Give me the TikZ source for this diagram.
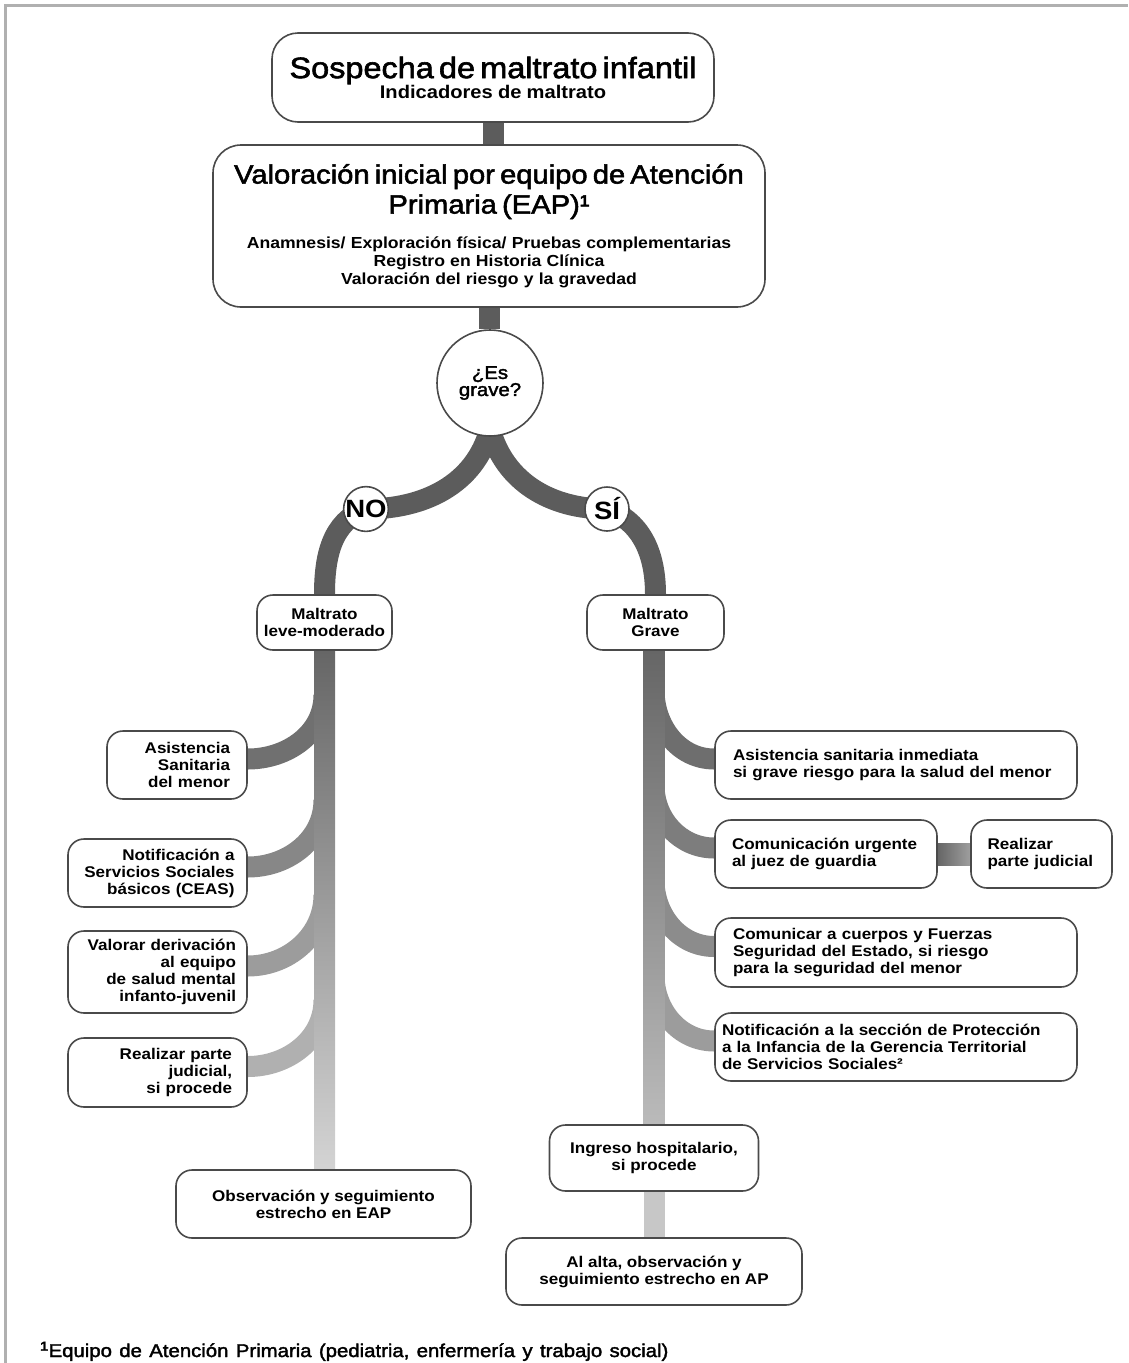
\documentclass[tikz,border=0pt]{standalone}
\usepackage{fontspec}
\setmainfont{Liberation Sans}[FakeStretch=1.1]
\newfontfamily\fuentemedia{Liberation Sans}[FakeStretch=1.1, FakeBold=2, WordSpace=1.3]
\usetikzlibrary{positioning,backgrounds,shapes}
\hyphenpenalty=10000
\exhyphenpenalty=10000

\definecolor{grisborde}{HTML}{4A4A4A}
\definecolor{gristallo}{HTML}{5C5C5C}
\definecolor{grismarco}{HTML}{B0B0B0}

\newcommand{\letrapeq}{\bfseries\fontsize{15.5}{17}\selectfont}
\newcommand{\ramaizq}[3]{\draw [rama, draw=#3] (#1) to[out=-90, in=0] ([yshift=6pt]#2.east);}
\newcommand{\ramader}[3]{\draw [rama, draw=#3] (#1) to[out=-90, in=180] ([yshift=6pt]#2.west);}

\tikzset{
  caja/.style={draw=grisborde, line width=1.6pt, rounded corners=16pt, fill=white, inner sep=0pt, font=\letrapeq},
  cajaizq/.style={caja, align=right},
  cajader/.style={caja, align=left},
  cajacen/.style={caja, align=center},
  decision/.style={circle, draw=grisborde, line width=1.6pt, fill=white, inner sep=0pt},
  rama/.style={line width=21pt},
}

\begin{document}
\begin{tikzpicture}[x=1pt, y=1pt]

\useasboundingbox (0,0) rectangle (1128,-1363);
\draw [grismarco, line width=3pt] (5,-1363) -- (5,-5) -- (1128,-5);

% parte superior
\node [caja, rounded corners=26pt, minimum width=442pt, minimum height=89pt, text width=436pt, align=center] (sosp) at (493,-77.5) {{\fuentemedia\mdseries\fontsize{29.5}{30}\selectfont Sospecha de maltrato infantil\par}{\bfseries\fontsize{18.3}{20}\selectfont Indicadores de maltrato\par}};
\node [caja, rounded corners=28pt, minimum width=552pt, minimum height=162pt, text width=540pt, align=center] (val) at (489,-226) {{\fuentemedia\mdseries\fontsize{26.5}{30}\selectfont Valoración inicial por equipo de Atención\\Primaria (EAP)¹\par}\vskip 17pt{\bfseries\fontsize{16}{18}\selectfont Anamnesis/ Exploración física/ Pruebas complementarias\\Registro en Historia Clínica\\Valoración del riesgo y la gravedad\par}};
\node [decision, minimum size=106pt, align=center, font=\fuentemedia\fontsize{18.5}{16}\selectfont] (es) at (490,-383) {¿Es\\grave?};
\node [decision, minimum size=44pt, font=\bfseries\fontsize{25}{25}\selectfont] (no) at (366,-509) {NO};
\node [decision, minimum size=44pt, font=\bfseries\fontsize{25}{25}\selectfont] (si) at (607,-509) {SÍ};

\node [cajacen, minimum width=135pt, minimum height=55pt] (leve) at (324.5,-622.5) {Maltrato\\leve-moderado};
\node [cajacen, minimum width=137pt, minimum height=55pt] (grave) at (655.5,-622.5) {Maltrato\\Grave};

% rama NO
\node [cajaizq, minimum width=140pt, minimum height=68pt, text width=106pt] (asisL) at (177,-765) {Asistencia\\Sanitaria\\del menor};
\node [cajaizq, minimum width=179pt, minimum height=68pt, text width=154pt] (ceas) at (157.5,-873) {Notificación a\\Servicios Sociales\\básicos (CEAS)};
\node [cajaizq, minimum width=179pt, minimum height=82pt, text width=157pt] (salud) at (157.5,-972) {Valorar derivación\\al equipo\\de salud mental\\infanto-juvenil};
\node [cajaizq, minimum width=179pt, minimum height=69pt, text width=149pt] (parteL) at (157.5,-1072.5) {Realizar parte\\judicial,\\si procede};
\node [cajacen, minimum width=295pt, minimum height=68pt] (obs) at (323.5,-1204) {Observación y seguimiento\\estrecho en EAP};

% rama SI
\node [cajader, minimum width=362pt, minimum height=68pt, text width=326pt] (asisR) at (896,-765) {Asistencia sanitaria inmediata\\si grave riesgo para la salud del menor};
\node [cajader, minimum width=222pt, minimum height=68pt, text width=188pt] (juez) at (826,-854) {Comunicación urgente\\al juez de guardia};
\node [cajader, minimum width=141pt, minimum height=68pt, text width=108pt] (parteR) at (1041.5,-854) {Realizar\\parte judicial};
\node [cajader, minimum width=362pt, minimum height=69pt, text width=326pt] (fuerzas) at (896,-952.5) {Comunicar a cuerpos y Fuerzas\\Seguridad del Estado, si riesgo\\para la seguridad del menor};
\node [cajader, minimum width=362pt, minimum height=68pt, text width=348pt] (proteccion) at (896,-1047) {Notificación a la sección de Protección\\a la Infancia de la Gerencia Territorial\\de Servicios Sociales²};
\node [cajacen, minimum width=209pt, minimum height=66pt] (ingreso) at (654,-1158) {Ingreso hospitalario,\\si procede};
\node [cajacen, minimum width=296pt, minimum height=67pt] (alta) at (654,-1271.5) {Al alta, observación y\\seguimiento estrecho en AP};

\node [anchor=base west, inner sep=0pt, font=\fuentemedia\fontsize{18.5}{20}\selectfont] (nota) at (40,-1357) {\textsuperscript{\bfseries 1}Equipo de Atención Primaria (pediatria, enfermería y trabajo social)};

\begin{scope}[on background layer]
  \draw [rama, draw=gristallo] (sosp.south) -- (sosp.south |- val.north);
  \draw [rama, draw=gristallo] (val.south) -- (val.south |- es.north);
  \draw [rama, draw=gristallo] ([yshift=8pt]es.south) to[out=-105, in=0] (no.center);
  \draw [rama, draw=gristallo] ([yshift=8pt]es.south) to[out=-75, in=180] (si.center);
  \draw [rama, draw=gristallo] (no.center) to[out=200, in=90] (leve.north);
  \draw [rama, draw=gristallo] (si.center) to[out=-20, in=90] (grave.north);

  \coordinate (tl1) at (324,-695);
  \coordinate (tl2) at (324,-800);
  \coordinate (tl3) at (324,-895);
  \coordinate (tl4) at (324,-1000);
  \ramaizq{tl1}{asisL}{black!56}
  \ramaizq{tl2}{ceas}{black!47}
  \ramaizq{tl3}{salud}{black!39}
  \ramaizq{tl4}{parteL}{black!31}

  \coordinate (tr1) at (654,-690);
  \coordinate (tr2) at (654,-785);
  \coordinate (tr3) at (654,-880);
  \coordinate (tr4) at (654,-975);
  \ramader{tr1}{asisR}{black!57}
  \ramader{tr2}{juez}{black!51}
  \ramader{tr3}{fuerzas}{black!45}
  \ramader{tr4}{proteccion}{black!39}

  \shade [top color=black!60, bottom color=black!17] ([xshift=-10.5pt]leve.south) rectangle ([xshift=10.5pt]leve.south |- obs.north);
  \shade [top color=black!60, bottom color=black!27] ([xshift=-10.5pt]ingreso.north |- grave.south) rectangle ([xshift=10.5pt]ingreso.north);
  \fill [black!22] ([xshift=-10.5pt]ingreso.south) rectangle ([xshift=10.5pt]alta.north);
  \shade [left color=black!60, right color=black!38] ([yshift=-11pt]juez.east) rectangle ([yshift=11pt]parteR.west);
\end{scope}

\end{tikzpicture}
\end{document}
